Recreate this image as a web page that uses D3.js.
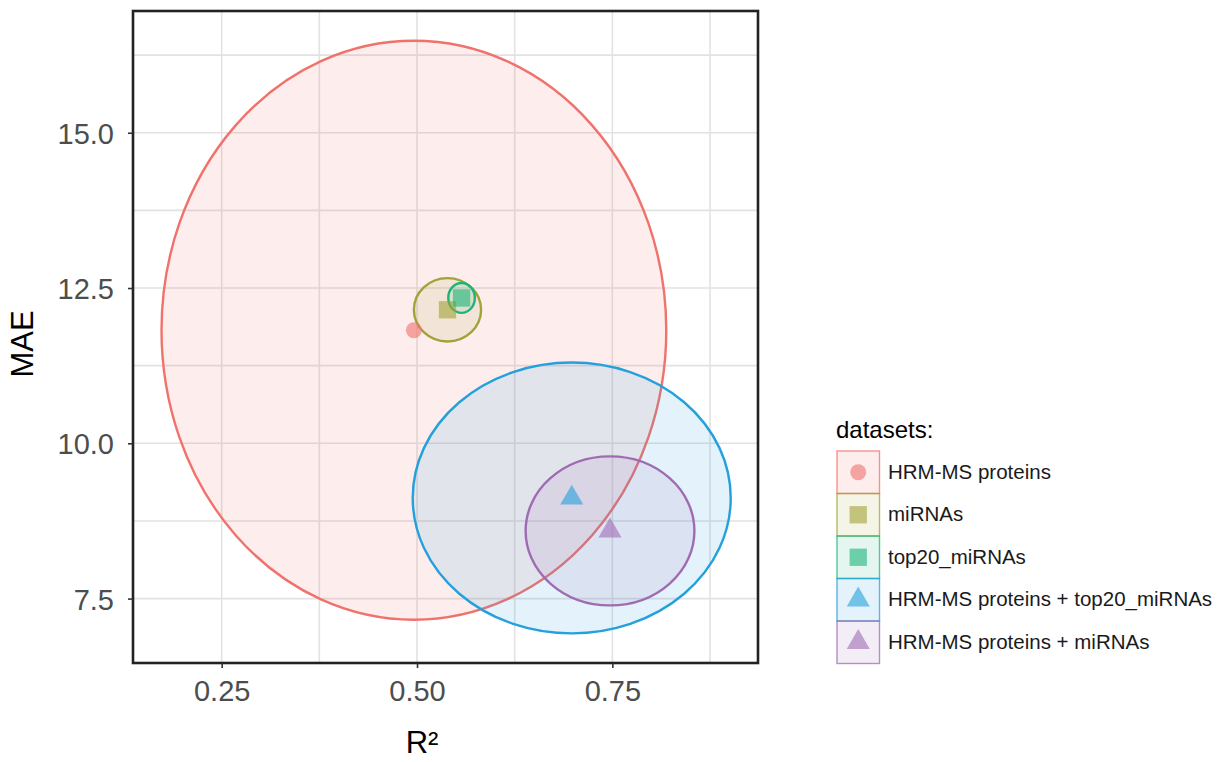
<!DOCTYPE html>
<meta charset="utf-8">
<title>R2 vs MAE by dataset</title>
<style>
  body { margin: 0; background: #fff; }
  svg text { font-family: Arial, "Liberation Sans", Helvetica, sans-serif; }
</style>
<svg id="chart" width="1225" height="762"></svg>
<script src="https://cdn.jsdelivr.net/npm/d3@7"></script>
<script>
// values
var datasets = ["HRM-MS proteins", "miRNAs", "top20_miRNAs",
                "HRM-MS proteins + top20_miRNAs", "HRM-MS proteins + miRNAs"];
var shapes   = ["circle", "square", "square", "triangle", "triangle"];
var colors   = ["#F0726C", "#A2A236", "#1DB57A", "#24A0DC", "#9F6CB3"];
var meanR2   = [0.496, 0.539, 0.557, 0.698, 0.747];
var meanMAE  = [11.82, 12.15, 12.34, 9.12, 8.59];
var sdR2     = [0.323, 0.043, 0.017, 0.2035, 0.108];
var sdMAE    = [4.66, 0.51, 0.24, 2.18, 1.20];

var xTicks = [0.25, 0.50, 0.75];
var xMinor = [0.375, 0.625, 0.875];
var yTicks = [7.5, 10.0, 12.5, 15.0];
var yMinor = [8.75, 11.25, 13.75, 16.25];

var svg = d3.select("#chart");

var panel = {left: 133, top: 11, right: 758, bottom: 663};

var x = d3.scaleLinear()
    .domain([0.1365, 0.9364])
    .range([panel.left, panel.right]);

var y = d3.scaleLinear()
    .domain([6.463, 16.96])
    .range([panel.bottom, panel.top]);

// grid
var grid = svg.append("g");
grid.selectAll(".vx").data(xTicks.concat(xMinor)).enter().append("line")
    .attr("x1", d => x(d)).attr("x2", d => x(d))
    .attr("y1", panel.top).attr("y2", panel.bottom)
    .attr("stroke", "#E2E2E2").attr("stroke-width", 1.6);
grid.selectAll(".hy").data(yTicks.concat(yMinor)).enter().append("line")
    .attr("y1", d => y(d)).attr("y2", d => y(d))
    .attr("x1", panel.left).attr("x2", panel.right)
    .attr("stroke", "#E2E2E2").attr("stroke-width", 1.6);

var rows = datasets.map(function(d, i) {
  return {name: d, shape: shapes[i], color: colors[i],
          r2: meanR2[i], mae: meanMAE[i], sx: sdR2[i], sy: sdMAE[i]};
});

// ellipses
svg.append("g").selectAll("ellipse").data(rows).enter().append("ellipse")
    .attr("cx", d => x(d.r2))
    .attr("cy", d => y(d.mae))
    .attr("rx", d => x(d.r2 + d.sx) - x(d.r2))
    .attr("ry", d => y(d.mae) - y(d.mae + d.sy))
    .attr("fill", d => d.color)
    .attr("fill-opacity", 0.12)
    .attr("stroke", d => d.color)
    .attr("stroke-width", 2.4);

var symType = {circle: d3.symbolCircle, square: d3.symbolSquare, triangle: d3.symbolTriangle};
var symSize = {circle: 200, square: 300, triangle: 230};

// points
svg.append("g").selectAll("path").data(rows).enter().append("path")
    .attr("transform", d => "translate(" + x(d.r2) + "," + y(d.mae) + ")")
    .attr("d", d => d3.symbol().type(symType[d.shape]).size(symSize[d.shape])())
    .attr("fill", d => d.color)
    .attr("fill-opacity", 0.6);

// panel border
svg.append("rect")
    .attr("x", panel.left).attr("y", panel.top)
    .attr("width", panel.right - panel.left)
    .attr("height", panel.bottom - panel.top)
    .attr("fill", "none").attr("stroke", "#222").attr("stroke-width", 2.6);

// axes
var xAxis = svg.append("g")
    .attr("transform", "translate(0," + panel.bottom + ")")
    .call(d3.axisBottom(x).tickValues(xTicks).tickFormat(d3.format(".2f"))
          .tickSize(5).tickPadding(12));
var yAxis = svg.append("g")
    .attr("transform", "translate(" + panel.left + ",0)")
    .call(d3.axisLeft(y).tickValues(yTicks).tickFormat(d3.format(".1f"))
          .tickSize(5).tickPadding(14));
[xAxis, yAxis].forEach(function(a) {
  a.select(".domain").remove();
  a.selectAll(".tick line").attr("stroke", "#333").attr("stroke-width", 1.6);
  a.selectAll(".tick text").attr("fill", "#4D4D4D").style("font-size", "29px");
});
yAxis.selectAll(".tick text").attr("dy", "0.36em");

svg.append("text")
    .attr("x", 422).attr("y", 753)
    .attr("text-anchor", "middle")
    .style("font-size", "31px")
    .text("R²");

svg.append("text")
    .attr("transform", "translate(33,344) rotate(-90)")
    .attr("text-anchor", "middle")
    .style("font-size", "31px")
    .text("MAE");

// legend
var legend = svg.append("g").attr("transform", "translate(837,451)");
legend.append("text")
    .attr("x", -1).attr("y", -13)
    .style("font-size", "24px")
    .text("datasets:");

var keyH = 42.5, keyW = 42.5;
var key = legend.selectAll(".key").data(rows).enter().append("g")
    .attr("transform", (d, i) => "translate(0," + (i * keyH) + ")");
key.append("rect")
    .attr("width", keyW).attr("height", keyH)
    .attr("fill", d => d.color).attr("fill-opacity", 0.12)
    .attr("stroke", d => d.color).attr("stroke-opacity", 0.75)
    .attr("stroke-width", 1.4);
key.append("path")
    .attr("transform", "translate(" + keyW / 2 + "," + keyH / 2 + ")")
    .attr("d", d => d3.symbol().type(symType[d.shape]).size(symSize[d.shape])())
    .attr("fill", d => d.color)
    .attr("fill-opacity", 0.6);
key.append("text")
    .attr("x", 51).attr("y", keyH / 2 + 6.5)
    .style("font-size", "20.5px")
    .attr("fill", "#1a1a1a")
    .text(d => d.name);
</script>
